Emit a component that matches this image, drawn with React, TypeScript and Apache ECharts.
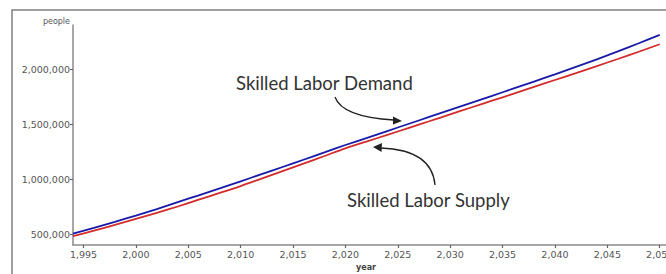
import React, { useEffect, useRef } from "react";
import * as echarts from "echarts";

const years = [1994, 1996, 1998, 2000, 2002, 2004, 2006, 2008, 2010, 2012, 2014, 2016, 2018, 2020, 2022, 2024, 2026, 2028, 2030, 2032, 2034, 2036, 2038, 2040, 2042, 2044, 2046, 2048, 2050];
const demand = [503000, 556000, 611000, 668000, 727000, 790000, 852000, 915000, 979000, 1044000, 1109000, 1175000, 1242000, 1309000, 1372000, 1436000, 1500000, 1564000, 1628000, 1692000, 1756000, 1821000, 1886000, 1952000, 2020000, 2088000, 2160000, 2234000, 2310000];
const supply = [480000, 530000, 583000, 637000, 692000, 750000, 812000, 873000, 936000, 1004000, 1072000, 1140000, 1209000, 1279000, 1340000, 1401000, 1463000, 1525000, 1588000, 1650000, 1712000, 1774000, 1837000, 1900000, 1963000, 2027000, 2091000, 2157000, 2225000];
const xTicks = [1995, 2000, 2005, 2010, 2015, 2020, 2025, 2030, 2035, 2040, 2045, 2050];
const yTicks = [500000, 1000000, 1500000, 2000000];

const fmt = (v: number) => Math.round(v).toLocaleString("en-US");

export default function App() {
  const ref = useRef<HTMLDivElement>(null);
  useEffect(() => {
    if (!ref.current) return;
    const chart = echarts.init(ref.current, null, { renderer: "svg" });
    const axisColor = "#8a8a8a";
    const labelStyle = { color: "#555", fontFamily: "DejaVu Sans", fontSize: 9.5 };
    chart.setOption({
      animation: false,
      backgroundColor: "#fff",
      grid: { left: 73, top: 25, right: 0, bottom: 29, outerBoundsMode: "none", containLabel: false },
      xAxis: {
        type: "value",
        min: 1994,
        max: 2050.6,
        axisLine: { show: true, lineStyle: { color: axisColor, width: 1.5 } },
        axisTick: { show: true, length: 3, customValues: xTicks, lineStyle: { color: "#666", width: 1.2 } },
        axisLabel: { ...labelStyle, margin: 4, customValues: xTicks, hideOverlap: false, formatter: (v: number) => fmt(v) },
        splitLine: { show: false },
      },
      yAxis: {
        type: "value",
        min: 400000,
        max: 2400000,
        axisLine: { show: true, lineStyle: { color: axisColor, width: 1.5 } },
        axisTick: { show: true, length: 3, customValues: yTicks, lineStyle: { color: "#666", width: 1.2 } },
        axisLabel: { ...labelStyle, margin: 3, customValues: yTicks, formatter: (v: number) => fmt(v) },
        splitLine: { show: false },
      },
      series: [
        {
          name: "Skilled Labor Supply",
          type: "line",
          data: years.map((y, i) => [y, supply[i]]),
          showSymbol: false,
          smooth: 0.3,
          lineStyle: { color: "#d22c2c", width: 1.8 },
        },
        {
          name: "Skilled Labor Demand",
          type: "line",
          data: years.map((y, i) => [y, demand[i]]),
          showSymbol: false,
          smooth: 0.3,
          lineStyle: { color: "#1a1aa8", width: 1.8 },
        },
      ],
      graphic: [
        {
          type: "polyline",
          shape: { points: [[12, 280], [12, 10], [680, 10]] },
          style: { fill: "none", stroke: "#808080", lineWidth: 1.5 },
          silent: true,
          z: -1,
        },
        {
          type: "text",
          x: 70,
          y: 21,
          style: { text: "people", fill: "#555", font: "8px 'DejaVu Sans'", textAlign: "right", textVerticalAlign: "middle" },
        },
        {
          type: "text",
          x: 366,
          y: 267,
          style: { text: "year", fill: "#444", font: "bold 8px 'DejaVu Sans'", textAlign: "center", textVerticalAlign: "middle" },
        },
        {
          type: "text",
          x: 236,
          y: 83,
          style: { text: "Skilled Labor Demand", fill: "#333", font: "18.5px Lato", textAlign: "left", textVerticalAlign: "middle" },
        },
        {
          type: "text",
          x: 347,
          y: 200,
          style: { text: "Skilled Labor Supply", fill: "#333", font: "18.5px Lato", textAlign: "left", textVerticalAlign: "middle" },
        },
        {
          type: "bezierCurve",
          shape: { x1: 335, y1: 97, x2: 394, y2: 120, cpx1: 342, cpy1: 117 },
          style: { stroke: "#222", lineWidth: 1.3, fill: "none" },
        },
        {
          type: "polygon",
          shape: { points: [[402, 121], [393, 116.5], [393, 124.5]] },
          style: { fill: "#222" },
        },
        {
          type: "bezierCurve",
          shape: { x1: 435, y1: 185, x2: 381, y2: 148, cpx1: 432, cpy1: 150 },
          style: { stroke: "#222", lineWidth: 1.3, fill: "none" },
        },
        {
          type: "polygon",
          shape: { points: [[373, 147], [382, 143], [381.5, 152]] },
          style: { fill: "#222" },
        },
      ],
    });
    return () => chart.dispose();
  }, []);
  return (
    <div style={{ position: "fixed", left: 0, top: 0, width: 666, height: 274, overflow: "hidden", background: "#fff" }}>
      <div ref={ref} style={{ width: 666, height: 274 }} />
    </div>
  );
}
